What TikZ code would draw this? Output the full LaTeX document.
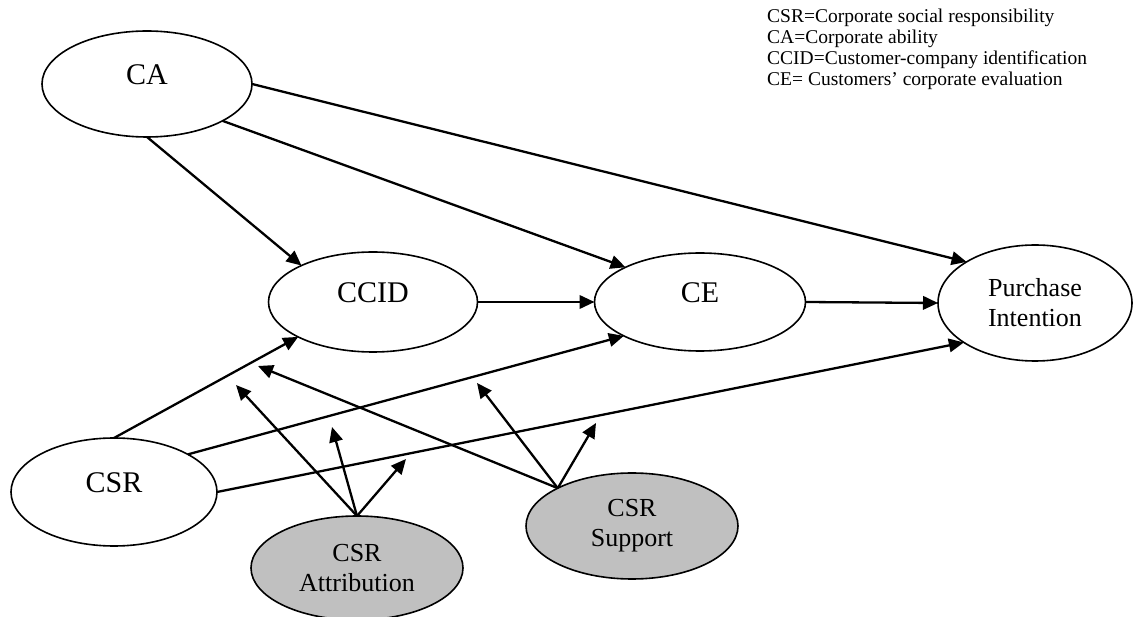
\documentclass[tikz,border=0pt]{standalone}
\usepackage{fontspec}
\setmainfont{Liberation Serif}
\usetikzlibrary{arrows.meta,shapes.geometric}
\definecolor{modgray}{RGB}{192,192,192}
\begin{document}
\begin{tikzpicture}[x=1pt,y=-1pt,
  construct/.style={ellipse,draw=black,line width=1.6pt,fill=white,
    inner sep=0pt,outer sep=0pt,font=\fontsize{30}{34}\selectfont,text depth=18pt},
  twoline/.style={ellipse,draw=black,line width=1.6pt,fill=white,
    inner sep=0pt,outer sep=0pt,font=\fontsize{26}{30}\selectfont,align=center},
  moderator/.style={twoline,fill=modgray},
  link/.style={line width=2.3pt,-{Triangle[length=15pt,width=13.5pt]}},
  legendtext/.style={anchor=base west,inner sep=0pt,font=\fontsize{19.5}{21}\selectfont}]
\useasboundingbox (0,0) rectangle (1136,617);

% constructs
\node[construct,minimum width=210pt,minimum height=106pt] (ca) at (147,84) {CA};
\node[construct,minimum width=209pt,minimum height=100pt] (ccid) at (373,302) {CCID};
\node[construct,minimum width=211pt,minimum height=98pt] (ce) at (700,302) {CE};
\node[twoline,minimum width=194pt,minimum height=116pt] (pi) at (1035,303) {Purchase\\Intention};
\node[construct,minimum width=206pt,minimum height=108pt] (csr) at (114,492) {CSR};
\node[moderator,minimum width=212pt,minimum height=104pt] (attr) at (357,568) {CSR\\Attribution};
\node[moderator,minimum width=212pt,minimum height=106pt] (supp) at (632,526) {CSR\\Support};

% legend
\node[legendtext] (leg1) at (767,23) {CSR=Corporate social responsibility};
\node[legendtext] (leg2) at (767,44) {CA=Corporate ability};
\node[legendtext] (leg3) at (767,65) {CCID=Customer-company identification};
\node[legendtext] (leg4) at (767,86) {CE= Customers’ corporate evaluation};

% direct effects
\draw[link] (ca.-90) -- (ccid.153.7);
\draw[link] (ca.-26.9) -- (ce.155.6);
\draw[link] (ca.0) -- (pi.149.6);
\draw[link] (ccid.east) -- (ce.west);
\draw[link] (ce.east) -- (pi.west);
\draw[link] (csr.90) -- (ccid.205.6);
\draw[link] (csr.27.8) -- (ce.204.2);
\draw[link] (csr.-0.5) -- (pi.209);

% moderating effects point at the CSR paths
\coordinate (ma1) at (236,385);
\coordinate (ma2) at (332,427);
\coordinate (ma3) at (406,459);
\coordinate (ms1) at (258,366);
\coordinate (ms2) at (477,383);
\coordinate (ms3) at (596,423);
\draw[link] (attr.north) -- (ma1);
\draw[link] (attr.north) -- (ma2);
\draw[link] (attr.north) -- (ma3);
\draw[link] (supp.153) -- (ms1);
\draw[link] (supp.153) -- (ms2);
\draw[link] (supp.153) -- (ms3);
\end{tikzpicture}
\end{document}
